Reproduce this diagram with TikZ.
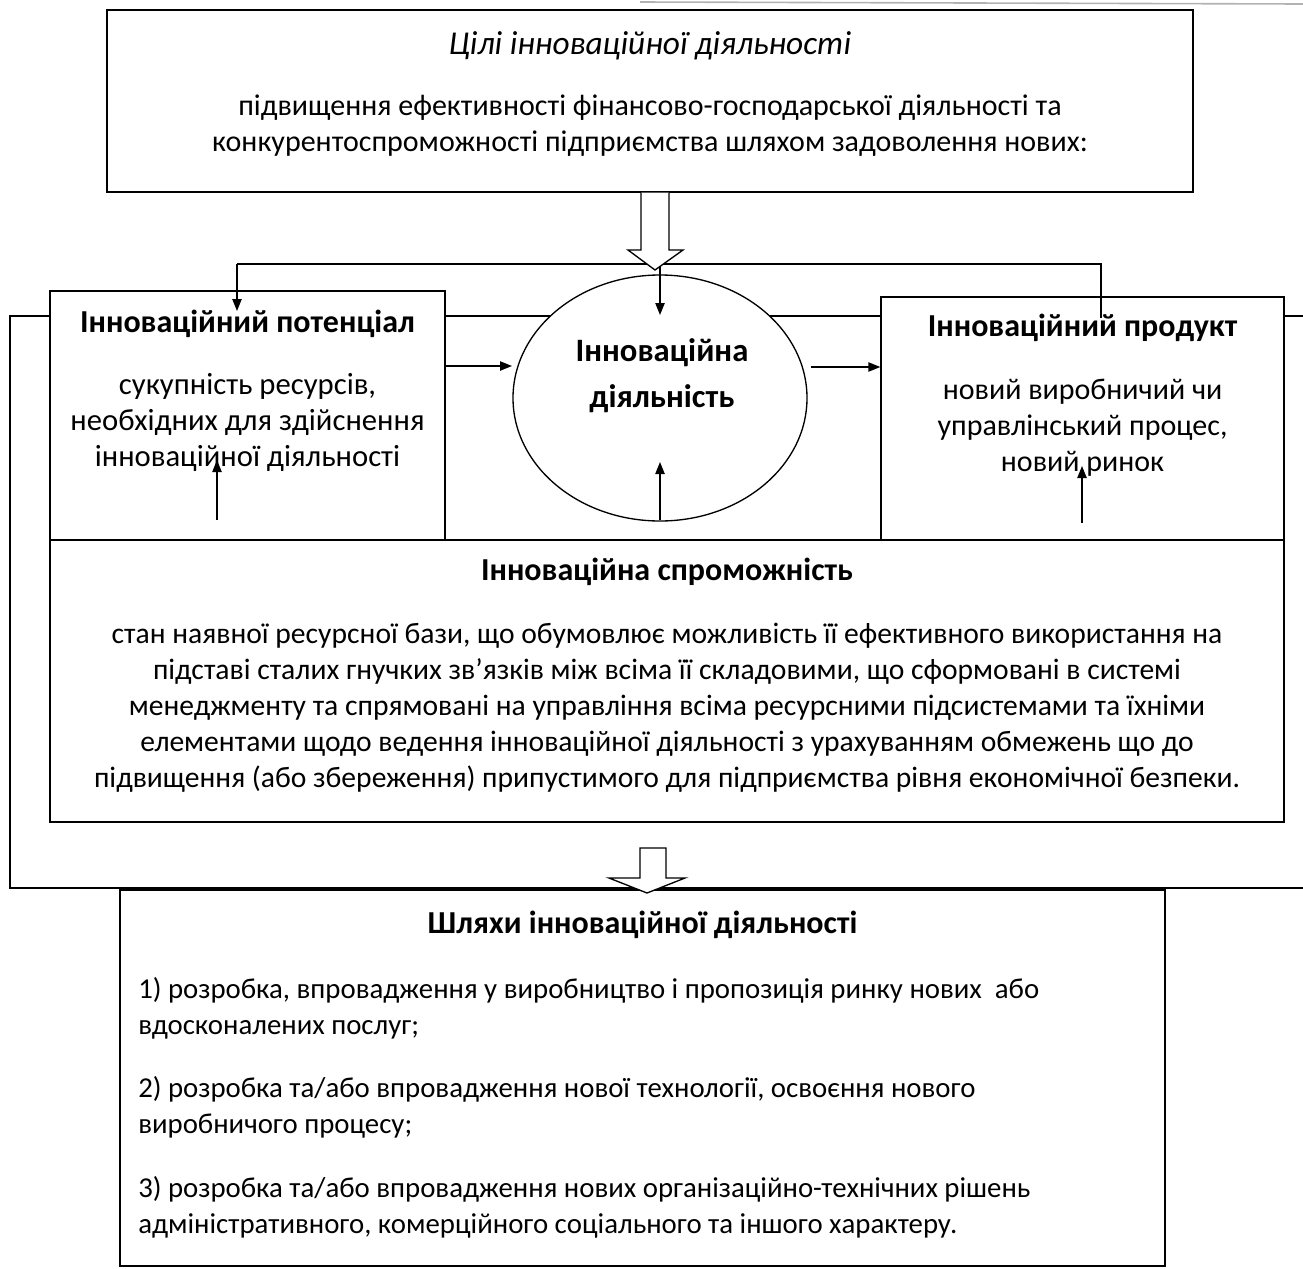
\documentclass[tikz,border=0pt]{standalone}
\usepackage{fontspec}
\setmainfont{Carlito}
\usetikzlibrary{shapes.geometric,arrows.meta}
\tikzset{
  box/.style={draw, line width=1pt, fill=white, inner sep=0pt, rectangle},
  oval/.style={draw, line width=1pt, fill=white, inner sep=0pt, ellipse},
  txt/.style={font=\fontsize{22.5}{27}\selectfont, align=center, inner sep=0pt},
  ttl/.style={font=\fontsize{24}{27}\selectfont\bfseries, inner sep=0pt},
  itl/.style={font=\fontsize{25}{27}\selectfont\itshape, inner sep=0pt},
  lst/.style={font=\fontsize{21.6}{27}\selectfont, align=left, inner sep=0pt, anchor=west},
  arr/.style={line width=1pt, -{Triangle[length=9pt,width=7pt]}},
  ln/.style={line width=1pt},
  hollow/.style={draw, line width=1pt, fill=white, line join=miter},
}
\begin{document}
\begin{tikzpicture}[x=0.75pt,y=-0.75pt]
\useasboundingbox (0,0) rectangle (1303,1268);
% faint edge at the top
\draw[gray!60, line width=1.2pt] (640,2) -- (1303,4);
% outer frame
\draw[ln] (1303,316) -- (10,316) -- (10,888) -- (1303,888);
% boxes
\node[box, minimum width=814.5pt, minimum height=136.5pt] (top) at (650,101) {};
\node[box, minimum width=296.25pt, minimum height=186.75pt] (pot) at (247.5,415.5) {};
\node[box, minimum width=302.25pt, minimum height=182.25pt] (prod) at (1082.5,418.5) {};
\node[oval, minimum width=220.5pt, minimum height=184.5pt] (act) at (660,398) {};
\node[box, minimum width=925.5pt, minimum height=211.5pt] (cap) at (667,681) {};
\node[box, minimum width=783.75pt, minimum height=282pt] (ways) at (642.5,1078) {};
% texts
\node[itl] (toptitle) at (650,46) {Цілі інноваційної діяльності};
\node[txt] (toptext) at (650,126) {підвищення ефективності фінансово-господарської діяльності та\\конкурентоспроможності підприємства шляхом задоволення нових:};
\node[ttl] (pottitle) at (247.5,324) {Інноваційний потенціал};
\node[txt, font=\fontsize{23}{27}\selectfont] (pottext) at (247.5,422) {сукупність ресурсів,\\необхідних для здійснення\\інноваційної діяльності};
\node[ttl, font=\fontsize{24.5}{27}\selectfont\bfseries] (acttitle1) at (662,353) {Інноваційна};
\node[ttl, font=\fontsize{24.5}{27}\selectfont\bfseries] (acttitle2) at (662,399) {діяльність};
\node[ttl] (prodtitle) at (1082.5,328) {Інноваційний продукт};
\node[txt] (prodtext) at (1082.5,428) {новий виробничий чи\\управлінський процес,\\новий ринок};
\node[ttl] (captitle) at (667,572) {Інноваційна спроможність};
\node[txt, font=\fontsize{22.2}{27}\selectfont] (captext) at (667,708) {стан наявної ресурсної бази, що обумовлює можливість її ефективного використання на\\підставі сталих гнучких зв’язків між всіма її складовими, що сформовані в системі\\менеджменту та спрямовані на управління всіма ресурсними підсистемами та їхніми\\елементами щодо ведення інноваційної діяльності з урахуванням обмежень що до\\підвищення (або збереження) припустимого для підприємства рівня економічної безпеки.};
\node[ttl] (waystitle) at (642.5,925) {Шляхи інноваційної діяльності};
\node[lst] (way1) at (138,1008) {1) розробка, впровадження у виробництво і пропозиція ринку нових\ \ або\\вдосконалених послуг;};
\node[lst] (way2) at (138,1107) {2) розробка та/або впровадження нової технології, освоєння нового\\виробничого процесу;};
\node[lst] (way3) at (138,1207) {3) розробка та/або впровадження нових організаційно-технічних рішень\\адміністративного, комерційного соціального та іншого характеру.};
% connectors
\coordinate (jl) at (237,264);
\coordinate (jc) at (660,264);
\coordinate (jr) at (1101,264);
\coordinate (pa) at (237,311);
\coordinate (ca) at (660,315);
\coordinate (pr) at (1101,318);
\draw[ln] (jl) -- (jr) -- (pr);
\draw[arr] (jl) -- (pa);
\draw[arr] (jc) -- (ca);
\draw[arr] (pot.east |- 0,366) -- (512,366);
\draw[arr] (811,367) -- (prod.west |- 0,367);
\draw[arr] (217,520) -- (217,460);
\draw[arr] (660,520) -- (660,462);
\draw[arr] (1082,523) -- (1082,466);
% hollow arrows
\draw[hollow] (top.south -| 641,0) -- (641,250) -- (628,250) -- (655,270) -- (683,250) -- (669,250) -- (top.south -| 669,0);
\draw[hollow] (640,848) -- (640,878) -- (609,878) -- (647,893) -- (685,878) -- (666,878) -- (666,848) -- cycle;
\end{tikzpicture}
\end{document}
